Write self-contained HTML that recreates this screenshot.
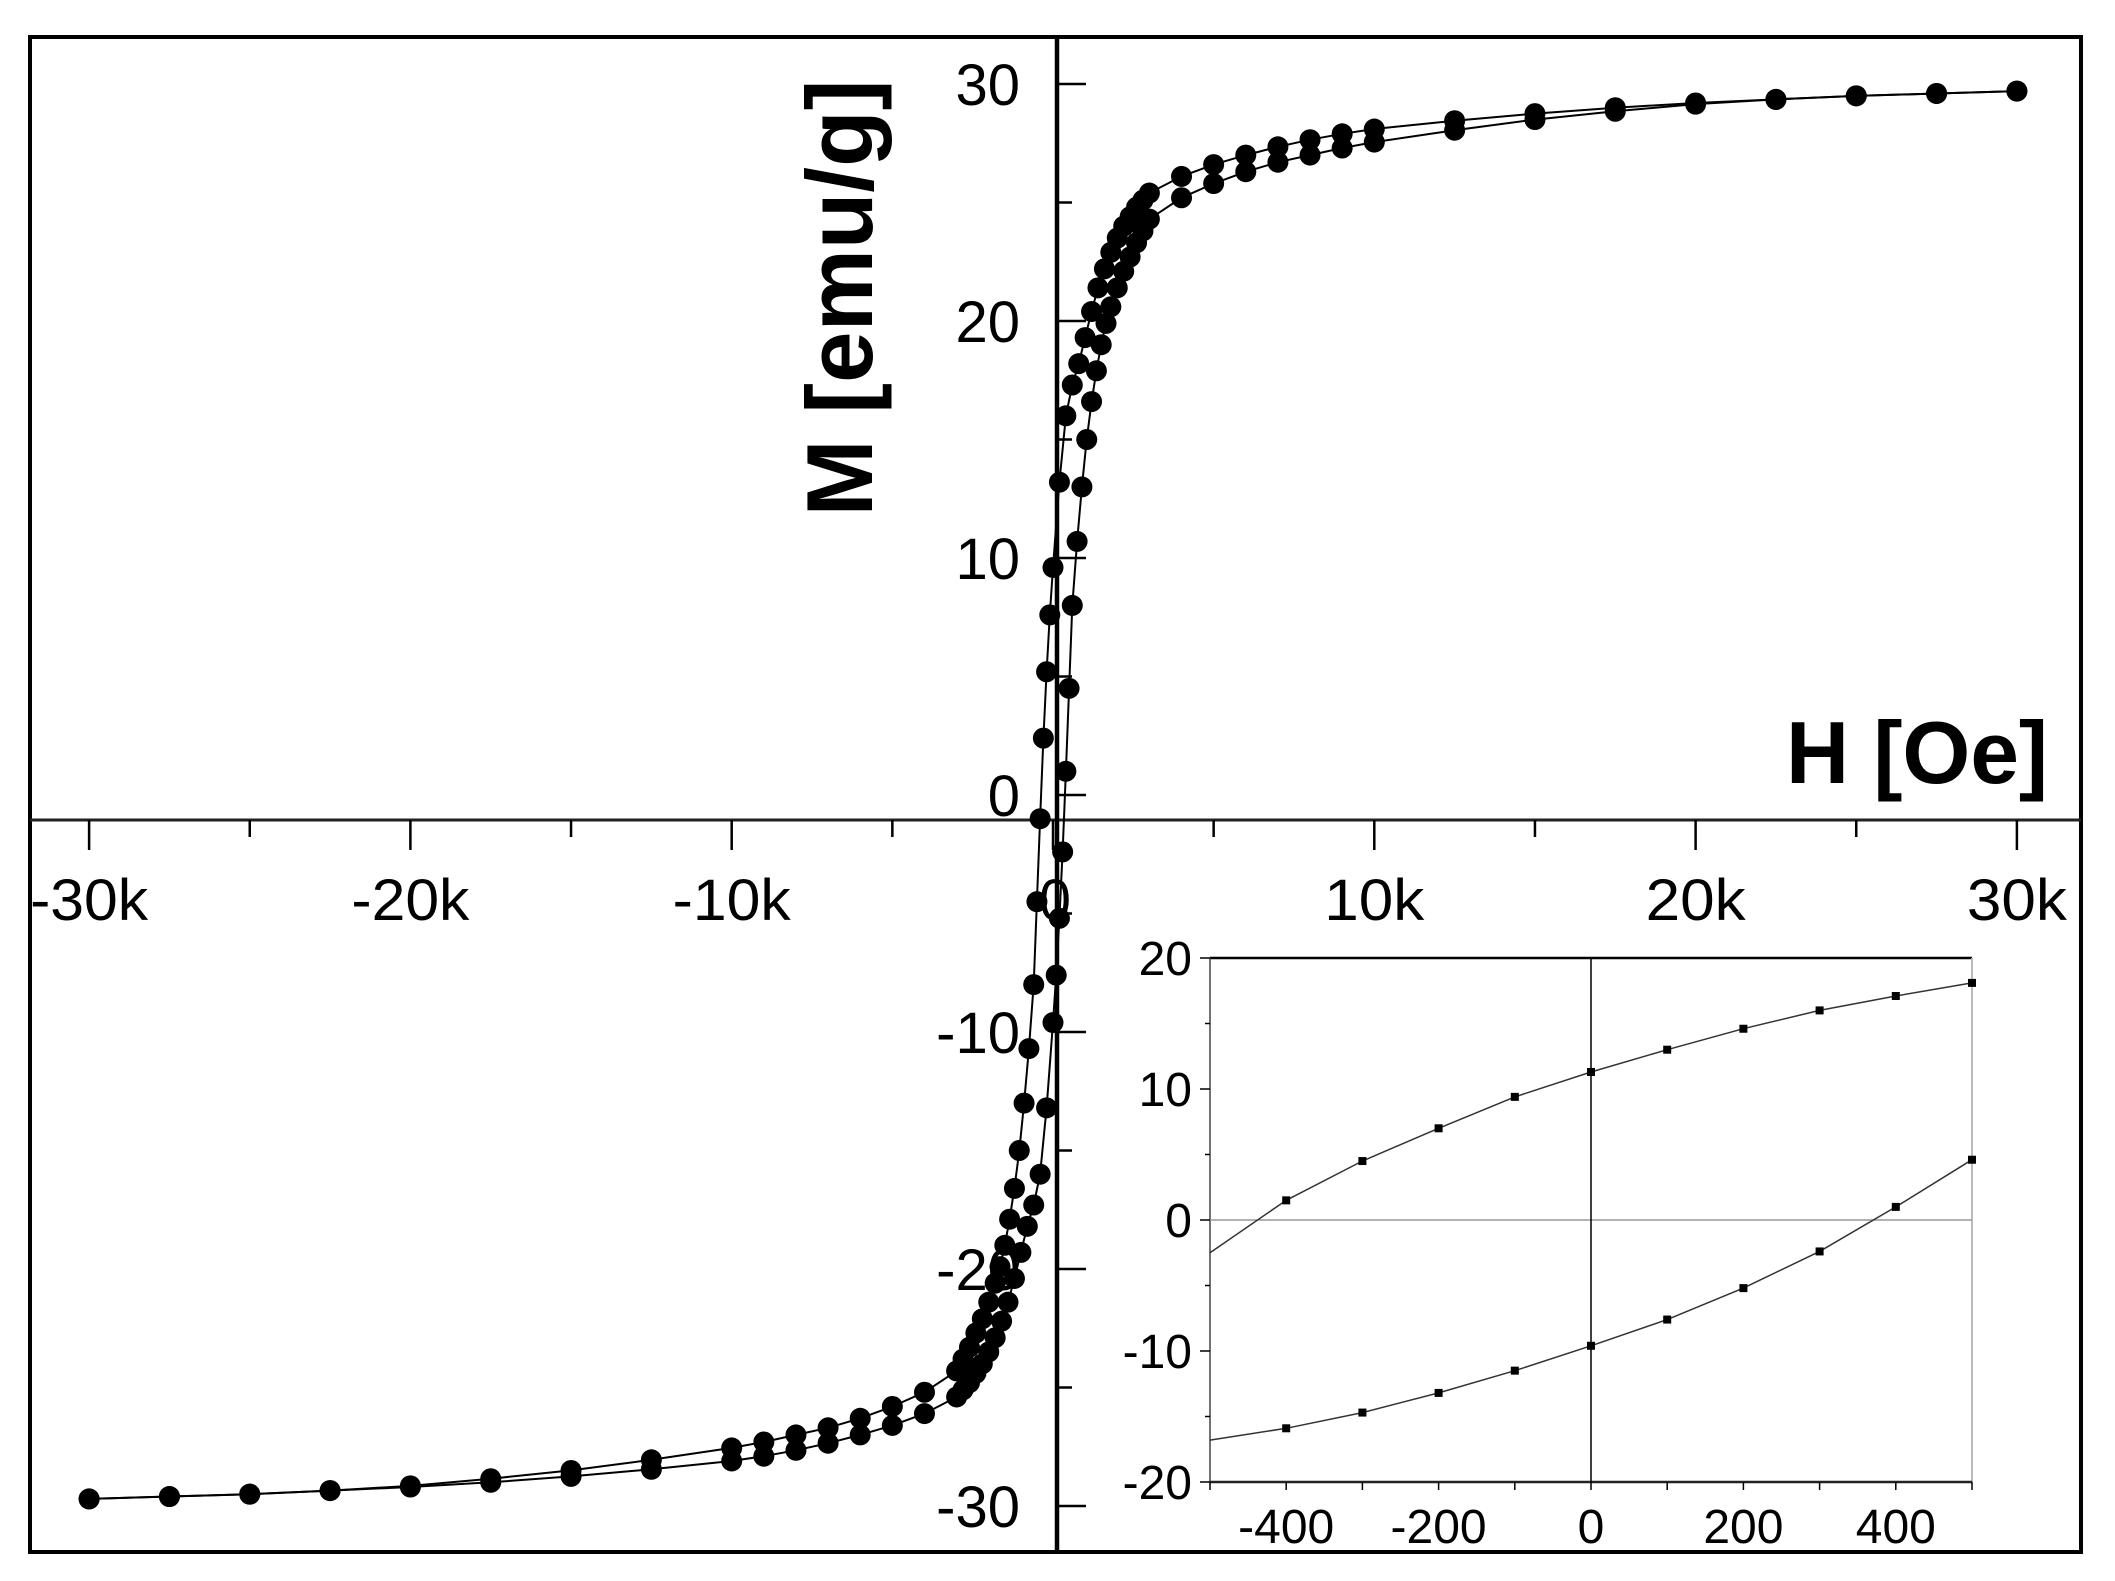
<!DOCTYPE html>
<html><head><meta charset="utf-8"><style>html,body{margin:0;padding:0;background:#fff}svg{display:block}text{font-family:"Liberation Sans",Arial,sans-serif}</style></head>
<body>
<svg id="s" width="2115" height="1581" viewBox="0 0 2115 1581" xmlns="http://www.w3.org/2000/svg">
<rect x="0" y="0" width="2115" height="1581" fill="#fff"/>
<rect x="30" y="37" width="2051" height="1515" fill="none" stroke="#000" stroke-width="4"/>
<line x1="30" y1="820" x2="2081" y2="820" stroke="#222" stroke-width="3"/>
<line x1="1057" y1="37" x2="1057" y2="1552" stroke="#000" stroke-width="4.5"/>
<g id="main"></g>
<text x="1786" y="783" font-size="88" font-weight="bold" textLength="262" lengthAdjust="spacingAndGlyphs">H [Oe]</text>
<text transform="translate(872,298) rotate(-90)" x="0" y="0" text-anchor="middle" font-size="94" font-weight="bold" textLength="437" lengthAdjust="spacingAndGlyphs">M [emu/g]</text>
<g id="inset"></g>
</svg>
<script>
var NS="http://www.w3.org/2000/svg";
function el(p,t,a,txt){var e=document.createElementNS(NS,t);for(var k in a)e.setAttribute(k,a[k]);if(txt!=null)e.textContent=txt;p.appendChild(e);return e;}
var g=document.getElementById('main');
function X(h){return 1053+32.13*h;}
function Y(m){return 795-23.7*m;}
for(var h=-30;h<=30;h+=5){var maj=(h%10===0);el(g,'line',{x1:X(h),y1:820,x2:X(h),y2:820+(maj?30:17),stroke:'#000','stroke-width':2.5});
 if(maj){var lab=h===0?'0':(h+'k');el(g,'text',{x:X(h)+(h===0?2:0),y:920,'text-anchor':'middle','font-size':58,textLength:(h===0?32:(h<0?118:100)),lengthAdjust:'spacingAndGlyphs'},lab);}}
for(var m=-30;m<=30;m+=5){var maj=(m%10===0);el(g,'line',{x1:1057,y1:Y(m),x2:1057+(maj?29:15),y2:Y(m),stroke:'#000','stroke-width':2.5});
 if(maj){el(g,'text',{x:1020,y:Y(m)+21,'text-anchor':'end','font-size':58},String(m));}}
var L=[[-30,-29.7],[-27.5,-29.6],[-25,-29.5],[-22.5,-29.35],[-20,-29.2],[-17.5,-29.0],[-15,-28.75],[-12.5,-28.45],[-10,-28.1],[-9,-27.9],[-8,-27.65],[-7,-27.35],[-6,-27.0],[-5,-26.6],[-4,-26.1],[-3,-25.4],[-2.8,-25.1],[-2.6,-24.8],[-2.4,-24.4],[-2.2,-24.0],[-2.0,-23.5],[-1.8,-22.9],[-1.6,-22.2],[-1.4,-21.4],[-1.2,-20.4],[-1.0,-19.3],[-0.8,-18.2],[-0.6,-17.3],[-0.4,-16],[-0.2,-13.2],[0,-9.6],[0.1,-7.6],[0.2,-5.2],[0.3,-2.4],[0.4,1],[0.5,4.5],[0.6,8],[0.75,10.7],[0.9,13],[1.05,15],[1.2,16.6],[1.35,17.9],[1.5,19],[1.65,19.9],[1.8,20.6],[2.0,21.4],[2.2,22.1],[2.4,22.7],[2.6,23.3],[2.8,23.8],[3.0,24.3],[4,25.2],[5,25.8],[6,26.3],[7,26.7],[8,27.0],[9,27.3],[10,27.55],[12.5,28.05],[15,28.5],[17.5,28.85],[20,29.15],[22.5,29.35],[25,29.5],[27.5,29.6],[30,29.7]];
var U=L.map(function(p){return[-p[0],-p[1]];}).reverse();
[L,U].forEach(function(B){var d='';B.forEach(function(p,i){d+=(i?'L':'M')+X(p[0]).toFixed(1)+' '+Y(p[1]).toFixed(1);});
 el(g,'path',{d:d,fill:'none',stroke:'#000','stroke-width':2});
 B.forEach(function(p){el(g,'circle',{cx:X(p[0]),cy:Y(p[1]),r:10.5,fill:'#000'});});});
var ig=document.getElementById('inset');
var IL0=1210,IR=1972,IT=958,IB=1482;
function XI(h){return (IL0+IR)/2+(IR-IL0)/1000*h;}
function YI(m){return (IT+IB)/2-(IB-IT)/40*m;}
el(ig,'rect',{x:IL0,y:IT,width:IR-IL0,height:IB-IT,fill:'#fff'});
el(ig,'line',{x1:IL0,y1:IT,x2:IR,y2:IT,stroke:'#000','stroke-width':2.5});
el(ig,'line',{x1:IR,y1:IT,x2:IR,y2:IB,stroke:'#bbb','stroke-width':2});
el(ig,'line',{x1:IL0,y1:IT,x2:IL0,y2:IB,stroke:'#444','stroke-width':1.5});
el(ig,'line',{x1:IL0,y1:IB,x2:IR,y2:IB,stroke:'#222','stroke-width':2.5});
el(ig,'line',{x1:IL0,y1:YI(0),x2:IR,y2:YI(0),stroke:'#999','stroke-width':1.5});
el(ig,'line',{x1:XI(0),y1:IT,x2:XI(0),y2:IB,stroke:'#000','stroke-width':1.5});
for(var m=-20;m<=20;m+=5){var maj=m%10===0;el(ig,'line',{x1:IL0-(maj?10:5),y1:YI(m),x2:IL0,y2:YI(m),stroke:'#000','stroke-width':1.5});
 if(maj)el(ig,'text',{x:1192,y:YI(m)+17,'text-anchor':'end','font-size':48},String(m));}
for(var h=-500;h<=500;h+=100){el(ig,'line',{x1:XI(h),y1:IB,x2:XI(h),y2:IB+8,stroke:'#000','stroke-width':1.5});
 if(h%200===0&&Math.abs(h)<=400)el(ig,'text',{x:XI(h),y:1543,'text-anchor':'middle','font-size':48},String(h));}
var IU=[[-500,-2.5],[-400,1.5],[-300,4.5],[-200,7],[-100,9.4],[0,11.3],[100,13],[200,14.6],[300,16],[400,17.1],[500,18.1]];
var IL=[[-500,-16.8],[-400,-15.9],[-300,-14.7],[-200,-13.2],[-100,-11.5],[0,-9.6],[100,-7.6],[200,-5.2],[300,-2.4],[400,1],[500,4.6]];
[IU,IL].forEach(function(B){var d='';B.forEach(function(p,i){d+=(i?'L':'M')+XI(p[0]).toFixed(1)+' '+YI(p[1]).toFixed(1);});
 el(ig,'path',{d:d,fill:'none',stroke:'#333','stroke-width':1.5});
 B.forEach(function(p,i){if(i>0)el(ig,'rect',{x:XI(p[0])-4,y:YI(p[1])-4,width:8,height:8,fill:'#000'});});});
</script>
</body></html>
